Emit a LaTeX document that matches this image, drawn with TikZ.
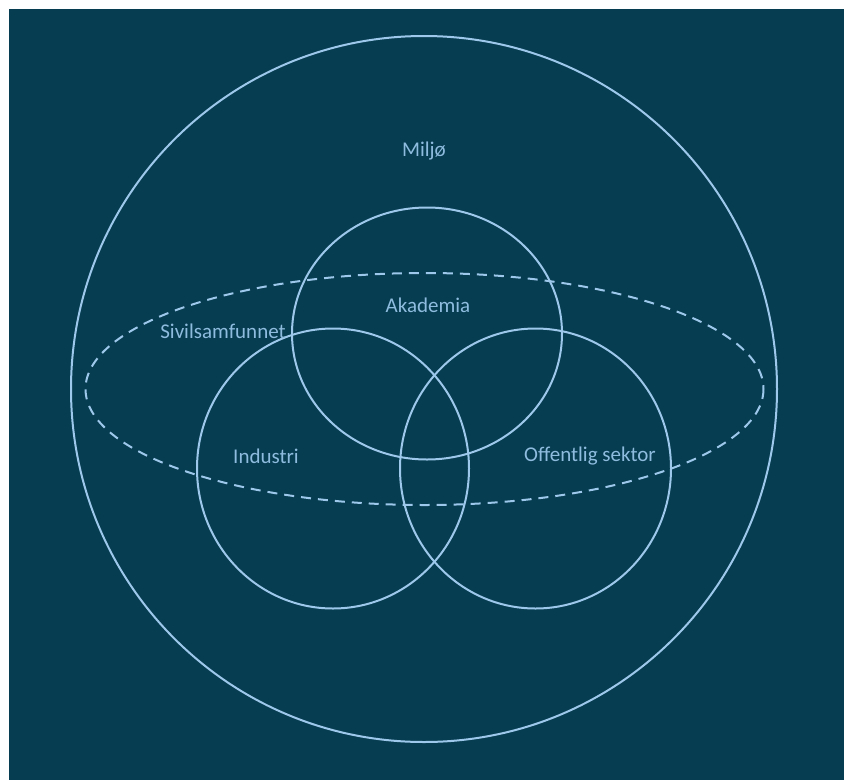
\documentclass[tikz,border=0pt]{standalone}
\usepackage{fontspec}
\setmainfont{Carlito}
\definecolor{bgc}{HTML}{073D51}
\definecolor{linec}{HTML}{9DC8EB}
\definecolor{textc}{HTML}{8EBCDF}
\begin{document}
\begin{tikzpicture}[x=1pt,y=-1pt,
  ring/.style={draw=linec,line width=2pt},
  lbl/.style={text=textc,font=\fontsize{21}{24}\selectfont,inner sep=0pt}]
\useasboundingbox (0,0) rectangle (844,780);
\fill[bgc] (9,9) rectangle (844,780);
\draw[ring] (424,389) circle[radius=353];
\draw[ring,dashed,dash pattern=on 10pt off 7pt] (424.5,389) ellipse[x radius=339,y radius=116];
\draw[ring] (427,333.5) ellipse[x radius=135,y radius=126];
\draw[ring] (333,468.5) ellipse[x radius=136,y radius=140];
\draw[ring] (535.5,468.5) ellipse[x radius=135.5,y radius=140];
\node[lbl] (miljo) at (424,151) {Miljø};
\node[lbl] (akademia) at (428,305) {Akademia};
\node[lbl] (sivil) at (223,331) {Sivilsamfunnet};
\node[lbl] (industri) at (266,456) {Industri};
\node[lbl] (offentlig) at (590,456) {Offentlig sektor};
\end{tikzpicture}
\end{document}
